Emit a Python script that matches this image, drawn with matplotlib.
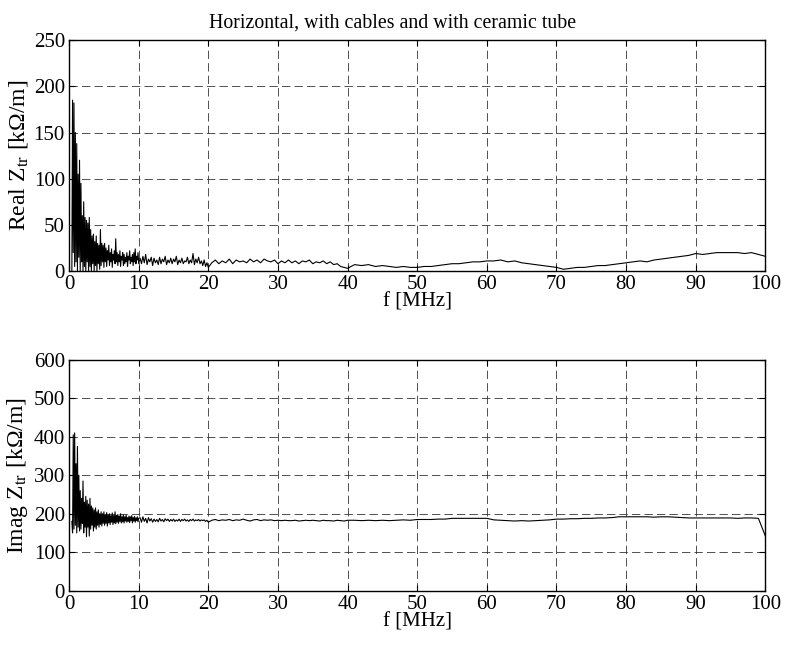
import numpy as np
import matplotlib
matplotlib.use('Agg')
import matplotlib.pyplot as plt

plt.rcParams['font.family'] = ['Liberation Serif', 'DejaVu Serif']
plt.rcParams['mathtext.fontset'] = 'stix'
plt.rcParams['lines.scale_dashes'] = False

# values, per frequency segment [MHz]
real_a = [0, 185, 20, 182, 5, 150, 10, 138, 0, 105, 15, 120, 0, 95, 10, 60, 0, 75, 5, 58,
          0, 55, 10, 52, 0, 58, 5, 45, 0, 38, 8, 40, 0, 32, 6, 38, 0, 30, 8, 28,
          2, 45, 6, 30, 10, 28, 4, 30, 10, 25, 5, 22, 12, 28, 6, 20, 10, 24, 4, 18,
          12, 22, 8, 35, 10, 20, 6, 18, 10, 22, 5, 16, 12, 20, 6, 18, 8, 15, 10, 20,
          5, 16, 12, 22, 8, 15, 10, 18, 6, 20, 10, 24, 8, 16, 12, 20, 8]
real_b = [14, 8, 16, 9, 18, 7, 13, 10, 15, 6, 14, 9, 12, 7, 15, 8, 13, 10, 16, 7,
          12, 9, 14, 8, 13, 10, 16, 7, 12, 9, 14, 8, 11, 10, 15, 8, 12, 9, 19, 7,
          13, 9, 15, 8, 11, 6, 12, 5, 9, 4]
real_c = [9, 12, 8, 11, 9, 13, 8, 12, 10, 11, 9, 13, 10, 12, 9, 13, 11, 10, 12, 8,
          11, 9, 12, 9, 11, 8, 11, 10, 12, 8, 10, 9, 11, 8, 10, 7, 8, 5, 4, 3]
real_d = [7, 6, 7, 5, 6, 5, 4, 5, 4, 4, 5, 5, 6, 7, 8, 8, 9, 10, 10, 11,
          11, 12, 10, 11, 9, 8, 7, 6, 5, 4, 2, 3, 4, 4, 5, 6, 6, 7, 8, 9,
          10, 11, 10, 12, 13, 14, 15, 16, 17, 19, 18, 19, 20, 20, 20, 20, 19, 20, 18, 16]

imag_a = [180, 150, 405, 160, 410, 170, 330, 150, 375, 165, 300, 155, 260, 160, 240, 175, 285, 150, 230, 165,
          245, 140, 235, 165, 225, 142, 240, 160, 220, 170, 215, 155, 210, 165, 215, 160, 205, 170, 210, 165,
          200, 172, 205, 168, 200, 175, 205, 170, 198, 175, 203, 168, 197, 176, 200, 172, 195, 178, 202, 172,
          195, 176, 205, 174, 196, 178, 198, 175, 194, 180, 200, 176, 192, 179, 197, 176, 192, 181, 196, 178,
          190, 180, 194, 177, 192, 182, 195, 176, 190, 181, 193, 178, 189, 182, 192, 179, 188]
imag_b = [190, 178, 192, 180, 188, 176, 190, 181, 187, 178, 186, 180, 185, 179, 188, 181, 185, 179, 187, 182,
          186, 180, 185, 181, 186, 180, 184, 181, 186, 180, 185, 182, 186, 181, 184, 180, 185, 182, 186, 181,
          184, 182, 185, 181, 184, 182, 184, 180, 183, 178]
imag_c = [183, 185, 182, 184, 183, 185, 182, 184, 183, 186, 183, 181, 184, 185, 182, 184, 183, 184, 182, 183,
          182, 183, 182, 182, 183, 181, 182, 183, 182, 183, 182, 181, 183, 182, 182, 181, 183, 182, 181, 183]
imag_d = [183, 182, 183, 182, 183, 182, 183, 184, 183, 185, 185, 185, 186, 186, 188, 188, 188, 188, 188, 188,
          184, 183, 182, 181, 182, 181, 182, 183, 184, 186, 186, 187, 187, 188, 188, 189, 189, 190, 192, 192,
          192, 192, 192, 191, 192, 192, 191, 190, 189, 189, 189, 189, 189, 189, 189, 188, 189, 189, 188, 142]

f = np.concatenate([np.linspace(0.4, 10.0, len(real_a)),
                    np.linspace(10.2, 20.0, len(real_b)),
                    np.linspace(20.5, 40.0, len(real_c)),
                    np.linspace(41.0, 100.0, len(real_d))])
z_real = np.concatenate([real_a, real_b, real_c, real_d])
z_imag = np.concatenate([imag_a, imag_b, imag_c, imag_d])

fig = plt.figure(figsize=(7.85, 6.47), dpi=100)
ax1 = fig.add_axes([0.088, 0.581, 0.887, 0.357])
ax2 = fig.add_axes([0.088, 0.087, 0.887, 0.357])

for ax, y, ymax, ystep, lab in [(ax1, z_real, 250, 50, 'Real Z$_{\\rm tr}$ [kΩ/m]'),
                                (ax2, z_imag, 600, 100, 'Imag Z$_{\\rm tr}$ [kΩ/m]')]:
    ax.plot(f, y, color='black', lw=0.8)
    ax.set_xlim(0, 100)
    ax.set_ylim(0, ymax)
    ax.set_xticks(np.arange(0, 101, 10))
    ax.set_yticks(np.arange(0, ymax + 1, ystep))
    ax.grid(True, color='0.2', lw=0.6, linestyle=(0, (6, 3)))
    ax.tick_params(direction='in', top=True, right=True, length=4, labelsize=15)
    ax.tick_params(axis='x', pad=3)
    ax.tick_params(axis='y', pad=3)
    for s in ax.spines.values():
        s.set_linewidth(1.0)
    ax.set_xlabel('f [MHz]', fontsize=15, labelpad=-1)
    ax.set_ylabel(lab, fontsize=17)
    ax.yaxis.set_label_coords(-0.056, 0.5)

ax1.set_title('Horizontal, with cables and with ceramic tube', fontsize=14.3, x=0.464, pad=9)

fig.savefig('out.png', dpi=100)
